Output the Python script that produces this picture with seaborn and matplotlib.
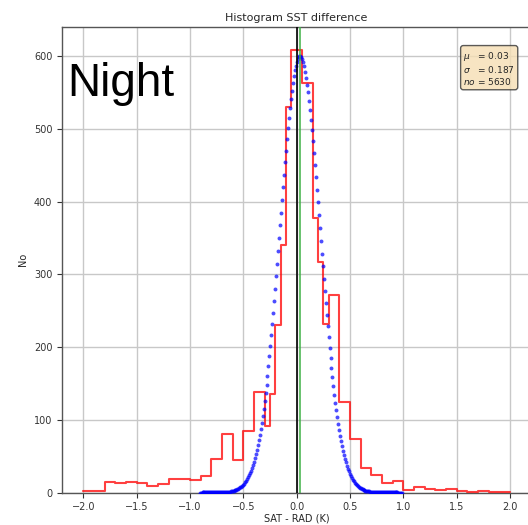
import numpy as np
import pandas as pd
import matplotlib
matplotlib.use("Agg")
import matplotlib.pyplot as plt
import seaborn as sns

# histogram of SAT - RAD differences, bin edges and counts
binEdges = [-2.0, -1.9, -1.8, -1.7, -1.6, -1.5, -1.4, -1.3, -1.2, -1.1, -1.0,
            -0.9, -0.8, -0.7, -0.6, -0.5, -0.4, -0.3, -0.25, -0.2, -0.15, -0.1,
            -0.05, 0.0, 0.05, 0.1, 0.15, 0.2, 0.25, 0.3, 0.4, 0.5, 0.6, 0.7,
            0.8, 0.9, 1.0, 1.1, 1.2, 1.3, 1.4, 1.5, 1.6, 1.7, 1.8, 1.9, 2.0]
binCounts = [2, 2, 14, 13, 14, 13, 9, 12, 19, 19, 17,
             23, 46, 80, 45, 85, 138, 91, 135, 230, 340,
             530, 608, 608, 563, 563, 378, 317, 232, 271, 124, 73,
             34, 24, 13, 16, 3, 7, 5, 3, 5, 2, 1, 2, 1, 1]

# fit parameters shown in the box
mu = 0.03
sigma = 0.187
nObs = 5630
fitRange = (-0.91, 0.99)

xTicks = [-2.0, -1.5, -1.0, -0.5, 0.0, 0.5, 1.0, 1.5, 2.0]
yTicks = [0, 100, 200, 300, 400, 500, 600]

edges = np.array(binEdges)
histDf = pd.DataFrame({"diff": (edges[:-1] + edges[1:]) / 2, "count": binCounts})

# normal curve of the fitted parameters, scaled to the central bin width
fitX = np.linspace(fitRange[0], fitRange[1], 210)
fitY = nObs * 0.05 / (sigma * np.sqrt(2 * np.pi)) * np.exp(-0.5 * ((fitX - mu) / sigma) ** 2)
fitDf = pd.DataFrame({"diff": fitX, "no": fitY})

sns.set_style("ticks")
plt.rcParams["font.family"] = ["DejaVu Sans"]

fig = plt.figure(figsize=(5.28, 5.25), dpi=100)
ax = fig.add_axes([0.1174, 0.0619, 0.889, 0.8867])

ax.grid(True, color="#c8c8c8", linewidth=1.0, zorder=0)
ax.set_axisbelow(True)

sns.histplot(data=histDf, x="diff", weights="count", bins=binEdges, element="step",
             fill=False, color="red", alpha=0.75, linewidth=1.5, ax=ax, zorder=3)
sns.scatterplot(data=fitDf, x="diff", y="no", color="blue", s=8, linewidth=0,
                alpha=0.7, ax=ax, zorder=4)

ax.axvline(0.0, color="black", linewidth=1.2, zorder=5)
ax.axvline(mu, color="#3cb043", linewidth=1.2, alpha=0.9, zorder=5)

ax.set_xlim(-2.2, 2.2)
ax.set_ylim(0, 640)
ax.set_xticks(xTicks)
ax.set_yticks(yTicks)
ax.tick_params(labelsize=7, colors="#333333", length=3.5)
for s in ax.spines.values():
    s.set_color("#555555")
    s.set_linewidth(1.0)

ax.set_title("Histogram SST difference", fontsize=8, pad=4)
ax.set_xlabel("SAT - RAD (K)", fontsize=7, labelpad=1)
ax.set_ylabel("No", fontsize=7, labelpad=4)

stats = "$\\mu$   = %.2f\n$\\sigma$   = %.3f\n$no$ = %d" % (mu, sigma, nObs)
ax.text(0.855, 0.95, stats, transform=ax.transAxes, fontsize=6.5, va="top", ha="left",
        linespacing=1.1,
        bbox=dict(boxstyle="round,pad=0.3", facecolor="wheat", edgecolor="#333333", alpha=0.8),
        zorder=6)

fig.text(0.127, 0.818, "Night", fontsize=33, family=["Liberation Sans", "DejaVu Sans"],
         color="black")

fig.savefig("out.png", dpi=100)
